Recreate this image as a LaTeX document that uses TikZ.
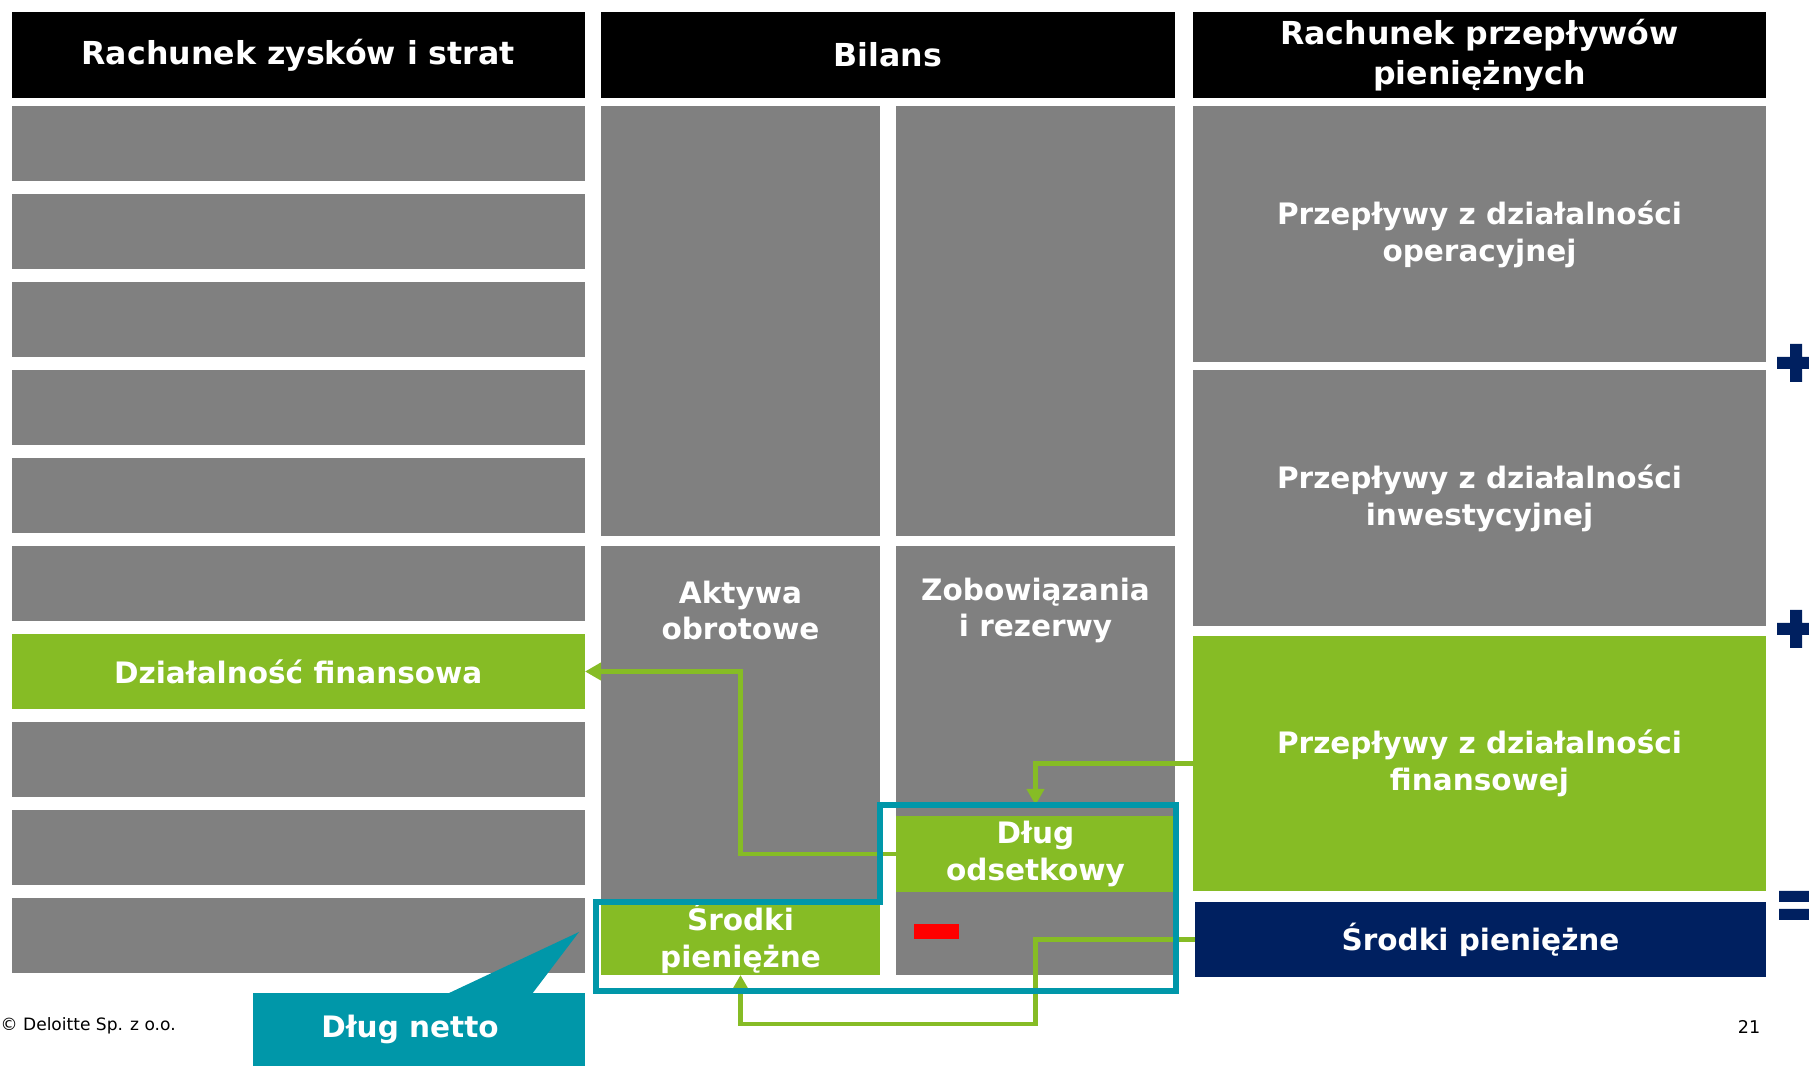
\documentclass[tikz,border=0pt]{standalone}
\usepackage{fontspec}
\setmainfont{DejaVu Sans}
\usetikzlibrary{arrows.meta}
\definecolor{dgreen}{RGB}{134,188,37}
\definecolor{dgray}{RGB}{128,128,128}
\definecolor{dteal}{RGB}{0,151,169}
\definecolor{dnavy}{RGB}{0,32,96}

\begin{document}
\begin{tikzpicture}[x=1cm,y=-1cm,
box/.style={fill=dgray,inner sep=0pt,outer sep=0pt,anchor=north west},
head/.style={box,fill=black,minimum height=0.86cm,text=white,align=center,font=\bfseries\fontsize{9}{11.4}\selectfont},
txt/.style={text=white,align=center,font=\bfseries\fontsize{8.4}{10.5}\selectfont},
link/.style={draw=dgreen,line width=1.4pt,-{Triangle[length=0.16cm,width=0.17cm]}},
sign/.style={fill=dnavy}]

\useasboundingbox (0,0) rectangle (18.09,10.66);

\node[head,minimum width=5.735cm] (hrzis) at (0.115,0.12) {Rachunek zysków i strat};
\node[head,minimum width=5.74cm] (hbil) at (6.01,0.12) {Bilans};
\node[head,minimum width=5.73cm] (hrpp) at (11.93,0.12) {Rachunek przepływów\\pieniężnych};

% rachunek zyskow i strat
\foreach \i in {1,2,3,4,5,6,8,9,10}
  \node[box,minimum width=5.735cm,minimum height=0.75cm] (rzis\i) at (0.115,{1.06+0.88*(\i-1)}) {};
\node[box,fill=dgreen,minimum width=5.735cm,minimum height=0.75cm,txt] (rzis7) at (0.115,6.34) {Działalność finansowa};

% bilans
\node[box,minimum width=2.79cm,minimum height=4.30cm] (aktTop) at (6.01,1.06) {};
\node[box,minimum width=2.79cm,minimum height=4.30cm] (pasTop) at (8.96,1.06) {};
\node[box,minimum width=2.79cm,minimum height=4.29cm] (akt) at (6.01,5.46) {};
\node[box,minimum width=2.79cm,minimum height=4.29cm] (pas) at (8.96,5.46) {};
\node[txt] (aktTxt) at (7.405,6.105) {Aktywa\\obrotowe};
\node[txt] (pasTxt) at (10.355,6.105) {Zobowiązania\\i rezerwy};
\node[box,fill=dgreen,minimum width=2.79cm,minimum height=0.76cm,txt] (dlug) at (8.96,8.16) {Dług\\odsetkowy};
\node[box,fill=dgreen,minimum width=2.79cm,minimum height=0.73cm,txt] (srodkiA) at (6.01,9.02) {Środki\\pieniężne};
\node[box,fill=red,minimum width=0.45cm,minimum height=0.15cm] (minus) at (9.14,9.24) {};

% rachunek przeplywow
\node[box,minimum width=5.73cm,minimum height=2.56cm,txt] (op) at (11.93,1.06) {Przepływy z działalności\\operacyjnej};
\node[box,minimum width=5.73cm,minimum height=2.56cm,txt] (inw) at (11.93,3.70) {Przepływy z działalności\\inwestycyjnej};
\node[box,fill=dgreen,minimum width=5.73cm,minimum height=2.55cm,txt] (fin) at (11.93,6.36) {Przepływy z działalności\\finansowej};
\node[box,fill=dnavy,minimum width=5.71cm,minimum height=0.75cm,txt] (srodkiP) at (11.95,9.02) {Środki pieniężne};

\fill[sign] (17.77,3.57) rectangle (18.15,3.69) (17.90,3.44) rectangle (18.02,3.82);
\fill[sign] (17.77,6.23) rectangle (18.15,6.35) (17.90,6.10) rectangle (18.02,6.48);
\fill[sign] (17.79,8.91) rectangle (18.15,9.02) (17.79,9.09) rectangle (18.15,9.20);

\draw[link] (dlug.west) -- (dlug.west -| akt.center) |- (rzis7.east);
\draw[link] (fin.west) -| ([yshift=0.11cm]dlug.north);
\draw[link] (srodkiP.west) -- (srodkiP.west -| dlug.south) -- ++(0,0.845) -| (srodkiA.south);

% dlug netto
\draw[dteal,line width=0.055cm] (5.96,9.02) -- (8.80,9.02) -- (8.80,8.05) -- (11.76,8.05) -- (11.76,9.91) -- (5.96,9.91) -- cycle;
\node[box,fill=dteal,minimum width=3.32cm,minimum height=0.73cm,txt] (netto) at (2.53,9.93) {Dług netto\hspace*{0.18cm}};
\fill[dteal] ([xshift=1.94cm,yshift=-0.01cm]netto.north west) -- (5.79,9.32) -- ([xshift=2.79cm,yshift=-0.01cm]netto.north west) -- cycle;

\node[anchor=west,inner sep=0pt,font=\fontsize{4.85}{6}\selectfont] (copy) at (0,10.26) {© Deloitte Sp. z o.o.};
\node[inner sep=0pt,font=\fontsize{5}{6}\selectfont] (page) at (17.49,10.27) {21};
\end{tikzpicture}
\end{document}
